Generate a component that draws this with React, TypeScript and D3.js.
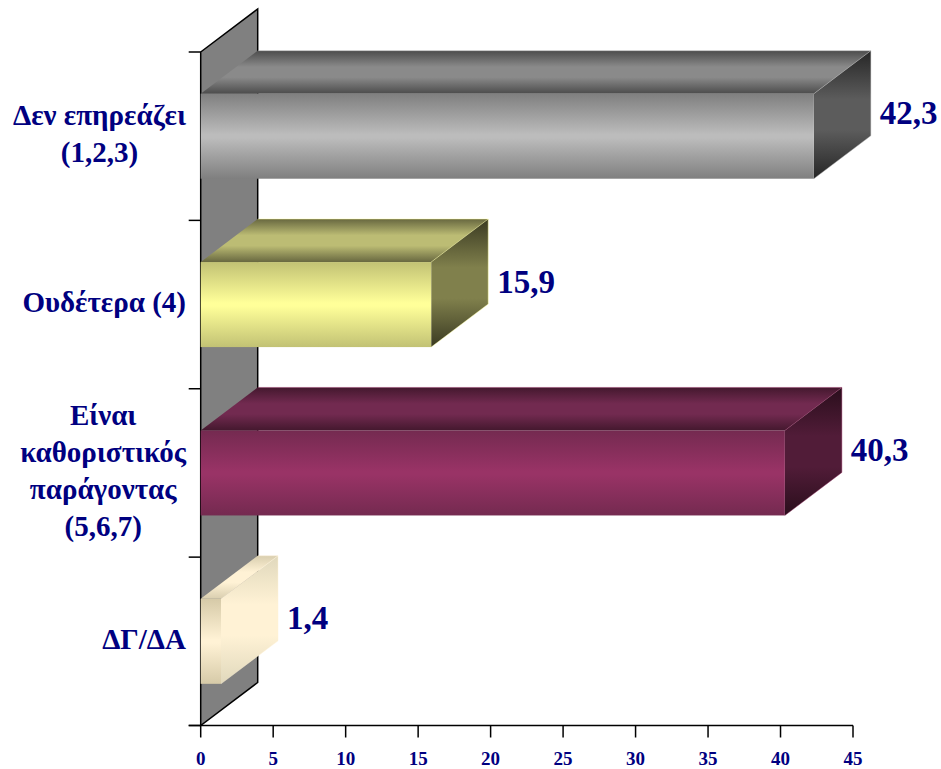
import React from "react";
import * as d3 from "d3";

const categories = ["Δεν επηρεάζει|(1,2,3)", "Ουδέτερα (4)", "Είναι|καθοριστικός|παράγοντας|(5,6,7)", "ΔΓ/ΔΑ"];
const values = [42.3, 15.9, 40.3, 1.4];
const valueLabels = ["42,3", "15,9", "40,3", "1,4"];
const xTicks = [0, 5, 10, 15, 20, 25, 30, 35, 40, 45];
const frontStops = [["#7f7f7f", "#bcbcbc"], ["#c2c274", "#ffff99"], ["#742a50", "#993366"], ["#d6caa8", "#fff2d5"]];
const topStops = [["#4c4c4c", "#8a8a8a"], ["#686840", "#bcbc74"], ["#44182e", "#722a50"], ["#d9ceaf", "#fff2d5"]];
const sideStops = [["#262626", "#5c5c5c"], ["#3a3a22", "#80804c"], ["#2a0e1c", "#511c38"], ["#e0d8bc", "#fff2d5"]];

const W = 941, H = 769;
const x = d3.scaleLinear().domain([0, 45]).range([200.7, 853]);
const y = d3.scaleBand<number>().domain([0, 1, 2, 3]).range([52, 725.5]).paddingInner(0.495).paddingOuter(0.2475);
const DX = 57, DY = 43;
const ink = "#000080";
const font = "'Liberation Serif', serif";
const catSize = 29;

function grad(id: string, c: string[], plateau: number) {
  return (
    <linearGradient id={id} x1="0" y1="0" x2="0" y2="1" key={id}>
      <stop offset="0" stopColor={c[0]} />
      <stop offset={0.5 - plateau} stopColor={c[1]} />
      <stop offset={0.5 + plateau} stopColor={c[1]} />
      <stop offset="1" stopColor={c[0]} />
    </linearGradient>
  );
}
const pts = (p: number[][]) => p.map((d) => d.join(",")).join(" ");
const ctx = document.createElement("canvas").getContext("2d")!;
ctx.font = `bold ${catSize}px 'Liberation Serif'`;

export default function App() {
  const x0 = x(0), yTop = 52, yBot = 725.5;
  const bw = y.bandwidth();
  const gridY = d3.range(0, 5).map((i) => yTop + (i * (yBot - yTop)) / 4);
  return (
    <svg width={W} height={H} style={{ position: "absolute", left: 0, top: 0, background: "#fff" }}>
      <defs>
        {categories.map((_, i) => [grad(`f${i}`, frontStops[i], 0.02), grad(`t${i}`, topStops[i], 0.12), grad(`s${i}`, sideStops[i], 0.12)])}
      </defs>
      <polygon points={pts([[x0, yTop], [x0 + DX, yTop - DY], [x0 + DX, yBot - DY], [x0, yBot]])} fill="#808080" stroke="#000" strokeWidth={1.5} />
      {gridY.map((g) => <line key={g} x1={x0 - 12} x2={x0} y1={g} y2={g} stroke="#000" strokeWidth={1.5} />)}
      <line x1={x0 - 12} x2={x(45)} y1={yBot} y2={yBot} stroke="#000" strokeWidth={1.5} />
      {xTicks.map((t) => (
        <g key={t}>
          <line x1={x(t)} x2={x(t)} y1={yBot} y2={yBot + 12} stroke="#000" strokeWidth={1.5} />
          <text x={x(t)} y={765} textAnchor="middle" fontFamily={font} fontWeight="bold" fontSize={19} fill={ink}>{t}</text>
        </g>
      ))}
      {values.map((v, i) => {
        const t = y(i)!, b = t + bw, xv = x(v);
        return (
          <g key={i}>
            <polygon points={pts([[x0, t], [x0 + DX, t - DY], [xv + DX, t - DY], [xv, t]])} fill={`url(#t${i})`} />
            <polygon points={pts([[xv, t], [xv + DX, t - DY], [xv + DX, b - DY], [xv, b]])} fill={`url(#s${i})`} />
            <polyline points={pts([[xv, t], [xv + DX, t - DY], [x0 + DX, t - DY]])} fill="none" stroke={frontStops[i][1]} strokeOpacity={0.55} strokeWidth={0.8} />
            <polyline points={pts([[xv + DX, t - DY], [xv + DX, b - DY], [xv, b]])} fill="none" stroke={frontStops[i][1]} strokeOpacity={0.55} strokeWidth={0.8} />
            <rect x={x0} y={t} width={xv - x0} height={bw} fill={`url(#f${i})`} />
            <text x={xv + DX + 9} y={(t + b) / 2 - 12} fontFamily={font} fontWeight="bold" fontSize={33} fill={ink}>{valueLabels[i]}</text>
          </g>
        );
      })}
      {categories.map((c, i) => {
        const lines = c.split("|");
        const mid = y(i)! + bw / 2;
        const widest = d3.max(lines, (l) => ctx.measureText(l).width)!;
        return lines.map((l, j) => (
          <text key={`${i}-${j}`} x={186 - widest / 2} y={mid + (j - (lines.length - 1) / 2) * 37 + 7.5} textAnchor="middle" fontFamily={font} fontWeight="bold" fontSize={catSize} fill={ink}>{l}</text>
        ));
      })}
    </svg>
  );
}
